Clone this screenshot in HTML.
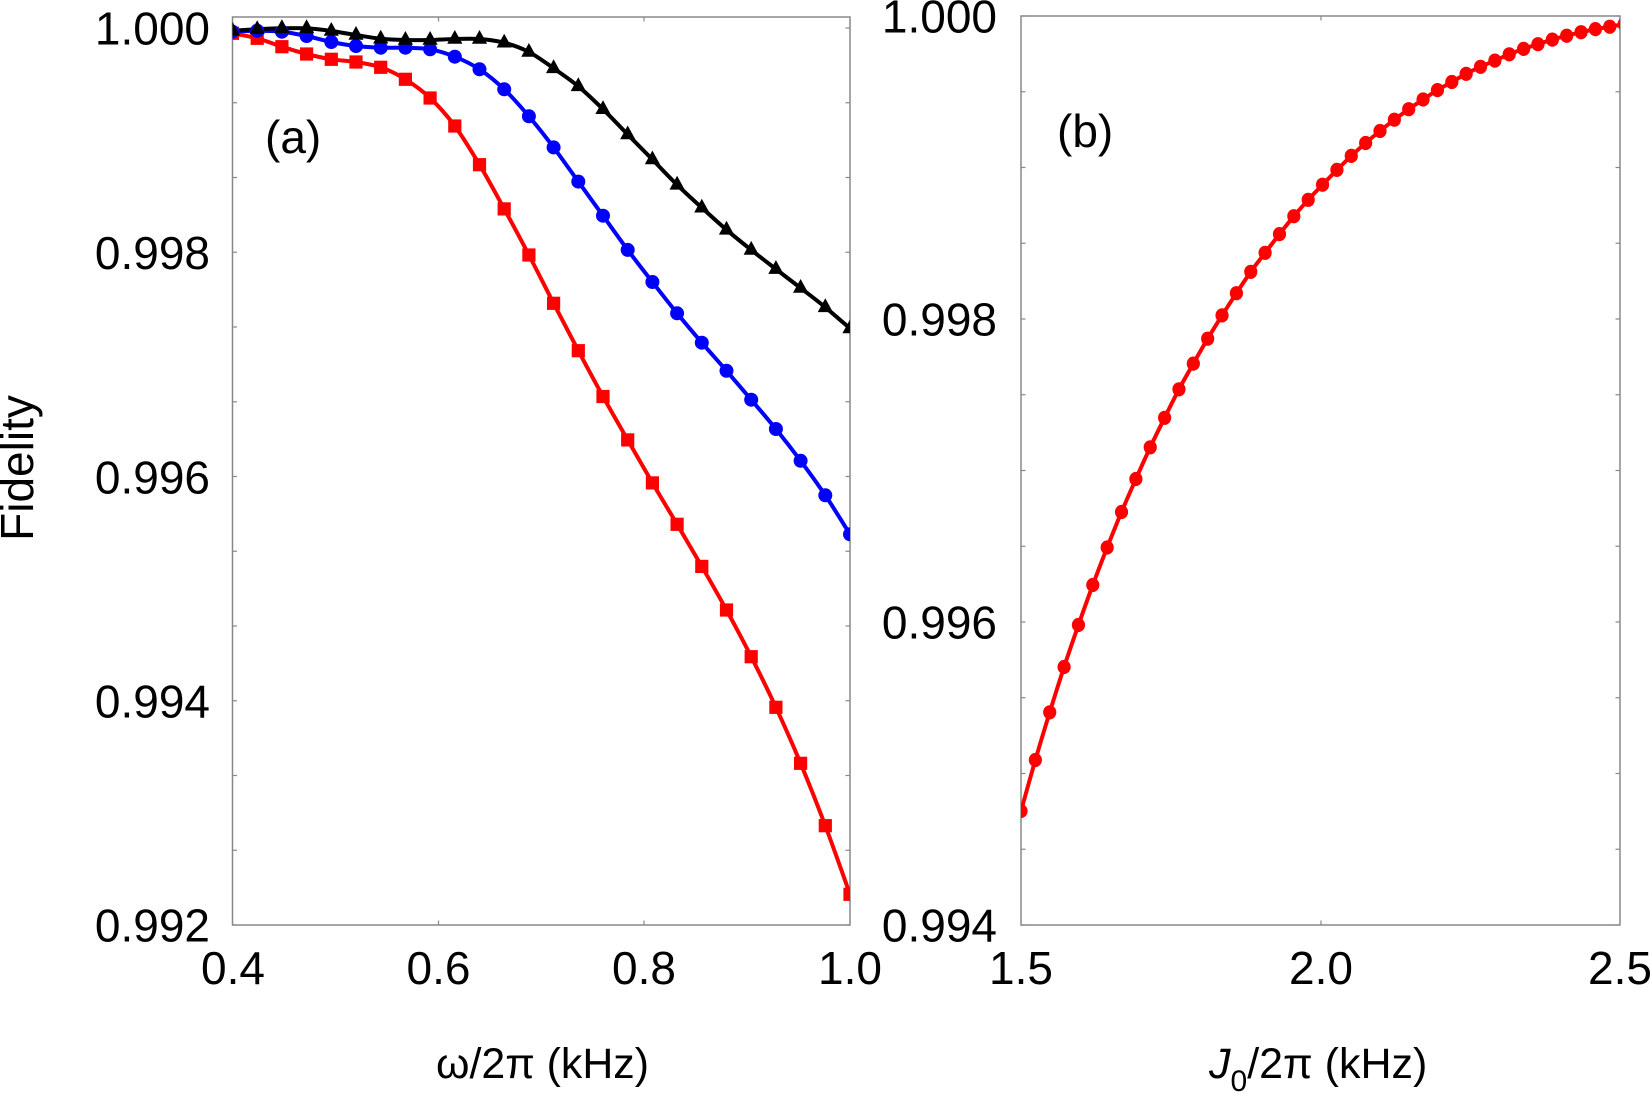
<!DOCTYPE html>
<html>
<head>
<meta charset="utf-8">
<style>
  html, body { margin: 0; padding: 0; background: #fff; }
  svg { display: block; }
  text { font-family: "Liberation Sans", Arial, sans-serif; fill: #000; }
</style>
</head>
<body>
<svg width="1650" height="1095" viewBox="0 0 1650 1095" xmlns="http://www.w3.org/2000/svg">
  <defs>
    <clipPath id="clipA"><rect x="232.5" y="17" width="617.5" height="908"/></clipPath>
    <clipPath id="clipB"><rect x="1021" y="16" width="599" height="909"/></clipPath>
  </defs>
  <rect width="1650" height="1095" fill="#fff"/>

  <!-- ===== Panel (a) ===== -->
  <g id="panelA">
    <rect x="232.5" y="17" width="617.5" height="908" fill="none" stroke="#888" stroke-width="1.5"/>
    <g stroke="#888" stroke-width="1.2" id="ticksA"></g>
    <g clip-path="url(#clipA)" id="seriesA"></g>
    <text x="265" y="153" font-size="46">(a)</text>
    <g font-size="46" text-anchor="end">
      <text x="210" y="44.5">1.000</text>
      <text x="210" y="268.8">0.998</text>
      <text x="210" y="493.3">0.996</text>
      <text x="210" y="717.5">0.994</text>
      <text x="210" y="941.5">0.992</text>
    </g>
    <g font-size="46" text-anchor="middle">
      <text x="233" y="984">0.4</text>
      <text x="438.5" y="984">0.6</text>
      <text x="644" y="984">0.8</text>
      <text x="850" y="984">1.0</text>
    </g>
    <text x="436" y="1078" font-size="43" textLength="213" lengthAdjust="spacingAndGlyphs">ω/2π (kHz)</text>
    <text transform="translate(33,468) rotate(-90)" font-size="46" text-anchor="middle">Fidelity</text>
  </g>

  <!-- ===== Panel (b) ===== -->
  <g id="panelB">
    <rect x="1021" y="16" width="599" height="909" fill="none" stroke="#888" stroke-width="1.5"/>
    <g stroke="#888" stroke-width="1.2" id="ticksB"></g>
    <g clip-path="url(#clipB)" id="seriesB"></g>
    <text x="1057" y="147" font-size="46">(b)</text>
    <g font-size="46" text-anchor="end">
      <text x="997" y="32.5">1.000</text>
      <text x="997" y="335.5">0.998</text>
      <text x="997" y="638.5">0.996</text>
      <text x="997" y="941.5">0.994</text>
    </g>
    <g font-size="46" text-anchor="middle">
      <text x="1021" y="984">1.5</text>
      <text x="1321" y="984">2.0</text>
      <text x="1620" y="984">2.5</text>
    </g>
    <text x="1209" y="1078" font-size="43"><tspan font-style="italic">J</tspan><tspan font-size="30" dy="13">0</tspan><tspan dy="-13">/2π (kHz)</tspan></text>
  </g>

<script>
(function(){
  var NS = "http://www.w3.org/2000/svg";
  function el(tag, attrs, parent){
    var e = document.createElementNS(NS, tag);
    for (var k in attrs) e.setAttribute(k, attrs[k]);
    parent.appendChild(e); return e;
  }
  // ticks A
  var tA = document.getElementById("ticksA");
  for (var i = 0; i <= 12; i++) {
    var y = 925 - i * 74.75;
    el("line", {x1:232.5, y1:y, x2:237, y2:y}, tA);
    el("line", {x1:850, y1:y, x2:845.5, y2:y}, tA);
  }
  [438.5, 644].forEach(function(x){
    el("line", {x1:x, y1:925, x2:x, y2:920.5}, tA);
    el("line", {x1:x, y1:17, x2:x, y2:21.5}, tA);
  });
  // ticks B
  var tB = document.getElementById("ticksB");
  for (var i = 0; i <= 12; i++) {
    var y = 925 - i * 75.75;
    el("line", {x1:1021, y1:y, x2:1025.5, y2:y}, tB);
    el("line", {x1:1620, y1:y, x2:1615.5, y2:y}, tB);
  }
  el("line", {x1:1321, y1:925, x2:1321, y2:920.5}, tB);
  el("line", {x1:1321, y1:16, x2:1321, y2:20.5}, tB);

  // series A
  var sA = document.getElementById("seriesA");
  var xs = []; for (var k = 0; k < 26; k++) xs.push(232.5 + 24.7 * k);
  var black = [30.7,29.3,28.3,28.3,31,35,38.7,40,40,39,39,42.7,52,68.3,86.3,109.2,134.5,159.5,184.8,207.7,229.8,249.9,269.1,288,307.3,328.5];
  var blue  = [31.7,30.7,31.7,36,42,46,47.7,47.7,49.3,56.7,69.3,89.3,116.3,147.4,181.6,215.7,249.9,282,313.3,342.7,370.8,399.7,429,460.8,495.3,534.3];
  var red   = [33.3,38.3,46.7,54,59.3,62,67.3,79.3,98,126,164.7,208.9,255,303.3,350.7,396.5,439.9,482.9,524.3,566.4,610,656.7,707.3,763.3,825.7,894.3];
  function smooth(xa, ya){
    var d = "M"+xa[0]+","+ya[0];
    for (var i = 0; i < xa.length-1; i++){
      var x0 = xa[Math.max(i-1,0)], y0 = ya[Math.max(i-1,0)];
      var x1 = xa[i], y1 = ya[i], x2 = xa[i+1], y2 = ya[i+1];
      var x3 = xa[Math.min(i+2,xa.length-1)], y3 = ya[Math.min(i+2,xa.length-1)];
      var c1x = x1 + (x2-x0)/6, c1y = y1 + (y2-y0)/6;
      var c2x = x2 - (x3-x1)/6, c2y = y2 - (y3-y1)/6;
      d += " C"+c1x.toFixed(2)+","+c1y.toFixed(2)+" "+c2x.toFixed(2)+","+c2y.toFixed(2)+" "+x2.toFixed(2)+","+y2.toFixed(2);
    }
    return d;
  }
  el("path", {d:smooth(xs, red), fill:"none", stroke:"#ff0000", "stroke-width":4, "stroke-linejoin":"round"}, sA);
  el("path", {d:smooth(xs, blue), fill:"none", stroke:"#0000ff", "stroke-width":4, "stroke-linejoin":"round"}, sA);
  el("path", {d:smooth(xs, black), fill:"none", stroke:"#000", "stroke-width":4, "stroke-linejoin":"round"}, sA);
  xs.forEach(function(x,i){
    el("rect", {x:x-6.6, y:red[i]-6.6, width:13.2, height:13.2, fill:"#ff0000"}, sA);
  });
  xs.forEach(function(x,i){
    el("circle", {cx:x, cy:blue[i], r:7, fill:"#0000ff"}, sA);
  });
  xs.forEach(function(x,i){
    var y = black[i];
    el("polygon", {points:(x)+","+(y-9)+" "+(x-7.6)+","+(y+4.8)+" "+(x+7.6)+","+(y+4.8), fill:"#000"}, sA);
  });

  // series B
  var sB = document.getElementById("seriesB");
  var yb = [811,760,712.3,667,625,585,547.5,512,479,447.3,417.8,389.3,363.6,338.7,315.4,293.2,271.8,252.8,234.1,216.2,199.8,184.7,169.9,155.9,143,131,119.7,109.2,99.5,90.1,82,73.8,66.8,60.6,54.3,48.9,44.2,39.6,35.7,32.2,29.1,26.7,24.2];
  var xb = yb.map(function(_,k){return 1021 + 14.36*k;});
  el("path", {d:smooth(xb, yb), fill:"none", stroke:"#ff0000", "stroke-width":4, "stroke-linejoin":"round"}, sB);
  xb.forEach(function(x,i){
    el("ellipse", {cx:x, cy:yb[i], rx:6.6, ry:7.1, fill:"#ff0000"}, sB);
  });
})();
</script>
</svg>
</body>
</html>
